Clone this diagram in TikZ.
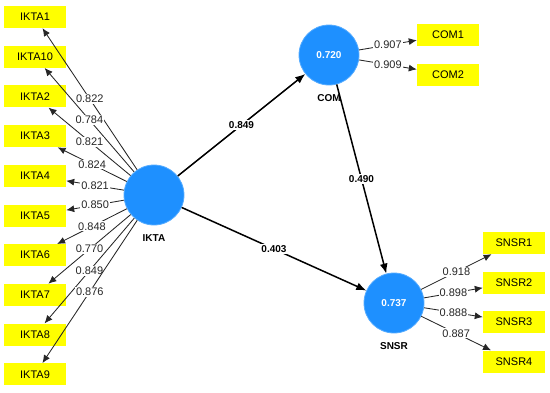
\documentclass[tikz,border=0pt]{standalone}
\usepackage{fontspec}
\setmainfont{Liberation Sans}
\usetikzlibrary{arrows.meta,positioning}
\definecolor{lvblue}{RGB}{30,144,255}
\definecolor{mvyellow}{RGB}{255,255,0}
\tikzset{
  lv/.style={circle,fill=lvblue,draw=lvblue!75!white,line width=0.8pt,minimum size=60pt,inner sep=0pt,text=white,font=\bfseries},
  mv/.style={rectangle,fill=mvyellow,minimum width=62pt,minimum height=22pt,inner sep=0pt},
  ld/.style={draw=black!85,line width=0.85pt,-{Latex[length=8pt,width=7pt]}},
  pth/.style={draw=black,line width=1.5pt,-{Latex[length=10pt,width=8pt]}},
  wt/.style={fill=white,inner sep=1pt,text=black!85},
  pwt/.style={fill=white,inner sep=1pt,font=\bfseries},
  lvname/.style={font=\bfseries}
}
\begin{document}
\begin{tikzpicture}[x=1pt,y=-1pt,font=\fontsize{11}{13}\selectfont]
  \useasboundingbox (0,0) rectangle (550,392);
  % latent variables
  \node[lv] (IKTA) at (154,195) {};
  \node[lv] (COM) at (329,55) {0.720};
  \node[lv] (SNSR) at (394,303) {0.737};
  \node[lvname,below=6pt of IKTA] (IKTAname) {IKTA};
  \node[lvname,below=6pt of COM] (COMname) {COM};
  \node[lvname,below=6pt of SNSR] (SNSRname) {SNSR};
  % indicators
  \node[mv] (IKTA1) at (35,17) {IKTA1};
  \node[mv] (IKTA10) at (35,56.7) {IKTA10};
  \node[mv] (IKTA2) at (35,96.4) {IKTA2};
  \node[mv] (IKTA3) at (35,136.1) {IKTA3};
  \node[mv] (IKTA4) at (35,175.8) {IKTA4};
  \node[mv] (IKTA5) at (35,215.5) {IKTA5};
  \node[mv] (IKTA6) at (35,255.2) {IKTA6};
  \node[mv] (IKTA7) at (35,294.9) {IKTA7};
  \node[mv] (IKTA8) at (35,334.6) {IKTA8};
  \node[mv] (IKTA9) at (35,374.3) {IKTA9};
  \node[mv] (COM1) at (448,35) {COM1};
  \node[mv] (COM2) at (448,74.5) {COM2};
  \node[mv] (SNSR1) at (514,243) {SNSR1};
  \node[mv] (SNSR2) at (514,282.5) {SNSR2};
  \node[mv] (SNSR3) at (514,322) {SNSR3};
  \node[mv] (SNSR4) at (514,361.5) {SNSR4};
  % outer loadings
  \draw[ld] (IKTA) -- node[wt] {0.822} (IKTA1);
  \draw[ld] (IKTA) -- node[wt] {0.784} (IKTA10);
  \draw[ld] (IKTA) -- node[wt] {0.821} (IKTA2);
  \draw[ld] (IKTA) -- node[wt] {0.824} (IKTA3);
  \draw[ld] (IKTA) -- node[wt] {0.821} (IKTA4);
  \draw[ld] (IKTA) -- node[wt] {0.850} (IKTA5);
  \draw[ld] (IKTA) -- node[wt] {0.848} (IKTA6);
  \draw[ld] (IKTA) -- node[wt] {0.770} (IKTA7);
  \draw[ld] (IKTA) -- node[wt] {0.849} (IKTA8);
  \draw[ld] (IKTA) -- node[wt] {0.876} (IKTA9);
  \draw[ld] (COM) -- node[wt] {0.907} (COM1);
  \draw[ld] (COM) -- node[wt] {0.909} (COM2);
  \draw[ld] (SNSR) -- node[wt] {0.918} (SNSR1);
  \draw[ld] (SNSR) -- node[wt] {0.898} (SNSR2);
  \draw[ld] (SNSR) -- node[wt] {0.888} (SNSR3);
  \draw[ld] (SNSR) -- node[wt] {0.887} (SNSR4);
  % path coefficients
  \draw[pth] (IKTA) -- node[pwt] {0.849} (COM);
  \draw[pth] (COM) -- node[pwt] {0.490} (SNSR);
  \draw[pth] (IKTA) -- node[pwt] {0.403} (SNSR);
\end{tikzpicture}
\end{document}
